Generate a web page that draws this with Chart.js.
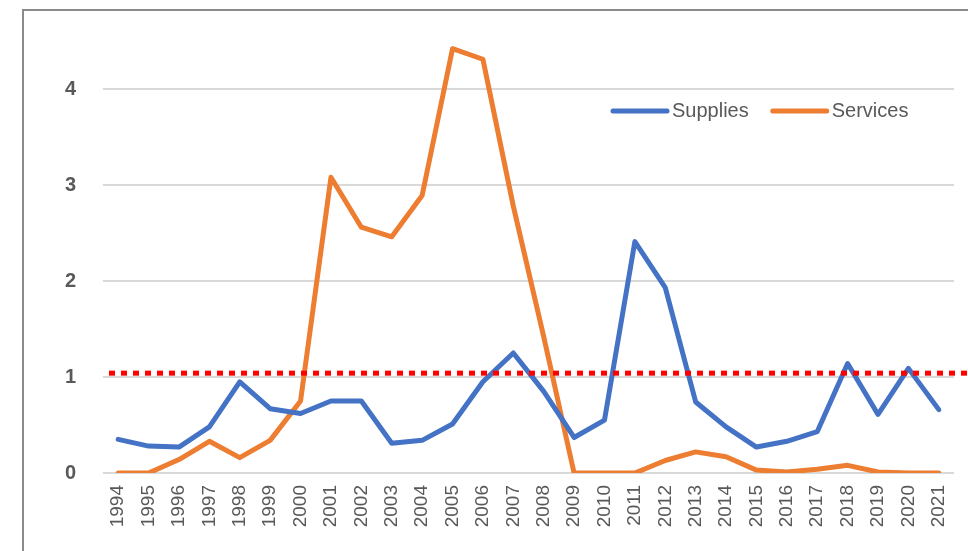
<!DOCTYPE html>
<html>
<head>
<meta charset="utf-8">
<script src="https://cdn.jsdelivr.net/npm/chart.js@4.4.1/dist/chart.umd.min.js"></script>
<style>
  html, body { margin: 0; padding: 0; background: #fff; overflow: hidden; }
  #frame {
    position: absolute; left: 22px; top: 9px; width: 1000px; height: 600px;
    border-left: 2px solid #8a8a8a; border-top: 2px solid #8a8a8a;
  }
  #wrap { position: absolute; left: 0; top: 0; width: 968px; height: 551px; }
</style>
</head>
<body>
<div id="frame"></div>
<div id="wrap"><canvas id="chart"></canvas></div>
<script>
const years = [1994, 1995, 1996, 1997, 1998, 1999, 2000, 2001, 2002, 2003, 2004, 2005, 2006, 2007,
  2008, 2009, 2010, 2011, 2012, 2013, 2014, 2015, 2016, 2017, 2018, 2019, 2020, 2021];
const supplies = [0.35, 0.28, 0.27, 0.48, 0.95, 0.67, 0.62, 0.75, 0.75, 0.31, 0.34, 0.51, 0.95, 1.25,
  0.85, 0.37, 0.55, 2.41, 1.93, 0.74, 0.48, 0.27, 0.33, 0.43, 1.14, 0.61, 1.09, 0.66];
const services = [0, 0, 0.14, 0.33, 0.16, 0.34, 0.75, 3.08, 2.56, 2.46, 2.89, 4.42, 4.31, 2.78,
  1.42, 0, 0, 0, 0.13, 0.22, 0.17, 0.03, 0.01, 0.04, 0.08, 0.01, 0, 0];
const yTicks = [0, 1, 2, 3, 4];
const thresholdValue = 1.04;

const grey = '#595959';

// dotted red reference line, drawn on top of the series
const thresholdLine = {
  id: 'thresholdLine',
  afterDatasetsDraw(chart) {
    const { ctx, chartArea, scales } = chart;
    const y = scales.y.getPixelForValue(thresholdValue);
    ctx.save();
    ctx.strokeStyle = '#ff0000';
    ctx.lineWidth = 5;
    ctx.setLineDash([6, 6]);
    ctx.beginPath();
    ctx.moveTo(chartArea.left + 6, y);
    ctx.lineTo(chart.width, y);
    ctx.stroke();
    ctx.restore();
  }
};

// legend sitting inside the plot, top right
const insideLegend = {
  id: 'insideLegend',
  afterDraw(chart) {
    const { ctx, chartArea } = chart;
    ctx.save();
    ctx.font = '20px "Liberation Sans", Arial, sans-serif';
    ctx.textBaseline = 'middle';
    let x = chartArea.right - 341;
    const y = chartArea.top + 70;
    chart.data.datasets.forEach((ds) => {
      ctx.strokeStyle = ds.borderColor;
      ctx.lineWidth = 5;
      ctx.lineCap = 'round';
      ctx.beginPath();
      ctx.moveTo(x, y);
      ctx.lineTo(x + 54, y);
      ctx.stroke();
      x += 59;
      ctx.fillStyle = grey;
      ctx.fillText(ds.label, x, y);
      x += ctx.measureText(ds.label).width + 24;
    });
    ctx.restore();
  }
};

new Chart(document.getElementById('chart'), {
  type: 'line',
  data: {
    labels: years,
    datasets: [
      { label: 'Supplies', data: supplies, borderColor: '#4472C4', backgroundColor: '#4472C4' },
      { label: 'Services', data: services, borderColor: '#ED7D31', backgroundColor: '#ED7D31' }
    ]
  },
  options: {
    responsive: true,
    maintainAspectRatio: false,
    animation: false,
    layout: { padding: { top: 41, right: 14, left: 0, bottom: 0 } },
    elements: {
      line: { borderWidth: 5, tension: 0, borderJoinStyle: 'round', borderCapStyle: 'round' },
      point: { radius: 0 }
    },
    plugins: { legend: { display: false }, tooltip: { enabled: false } },
    scales: {
      x: {
        offset: true,
        grid: { display: false, drawTicks: false },
        border: { display: false },
        ticks: {
          color: grey,
          font: { family: '"Liberation Sans", Arial, sans-serif', size: 19 },
          minRotation: 90, maxRotation: 90, autoSkip: false, padding: 12
        },
        afterFit(scale) {
          scale.height = 78;
          scale.paddingLeft = 0;
          scale.paddingRight = 0;
        }
      },
      y: {
        min: 0,
        max: 4.5,
        afterBuildTicks(scale) { scale.ticks = yTicks.map((v) => ({ value: v })); },
        grid: { color: '#d9d9d9', lineWidth: 2, drawTicks: false },
        border: { display: false },
        ticks: {
          color: grey,
          font: { family: '"Liberation Sans", Arial, sans-serif', size: 20, weight: 'bold' },
          padding: 27
        },
        afterFit(scale) { scale.width = 103; }
      }
    }
  },
  plugins: [thresholdLine, insideLegend]
});
</script>
</body>
</html>
